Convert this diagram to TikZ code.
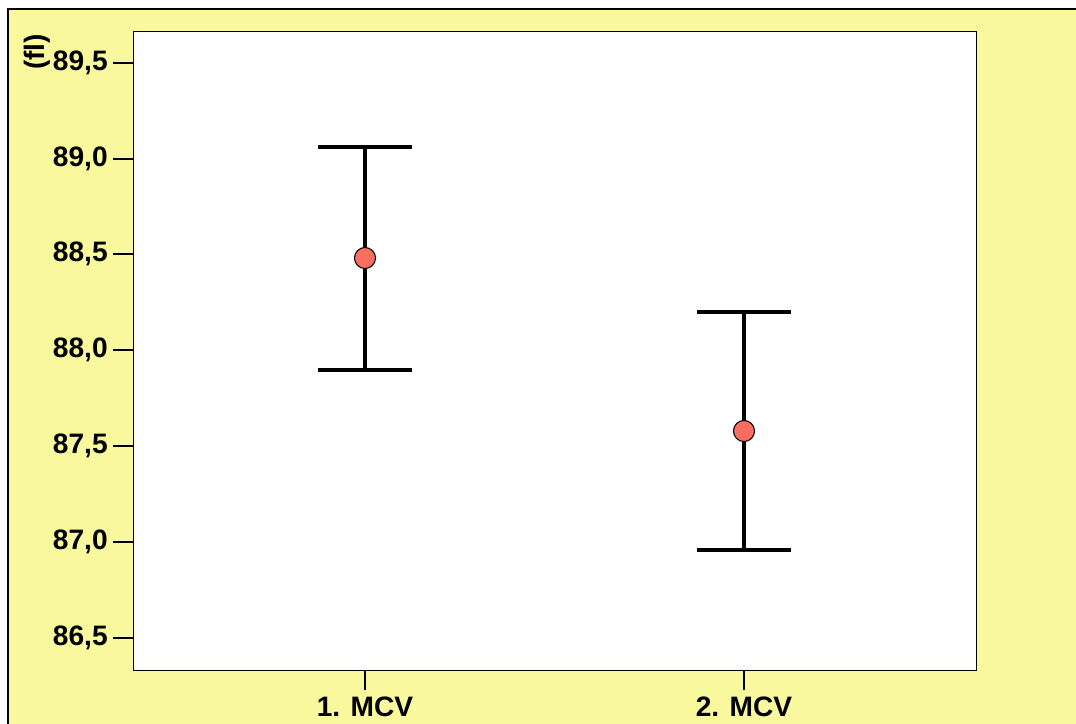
\documentclass[tikz,border=0pt]{standalone}
\usepackage{fontspec}
\setmainfont{Liberation Sans}
\definecolor{bgyellow}{HTML}{FAF89D}
\definecolor{meanred}{HTML}{FA6E62}
\tikzset{
  ticklab/.style={font=\bfseries\fontsize{16}{18}\selectfont, inner sep=0pt},
  errbar/.style={line width=2.4pt},
  meandot/.style={circle, draw=black, fill=meanred, line width=0.6pt, minimum size=12pt, inner sep=0pt},
}
\begin{document}
\begin{tikzpicture}[x=0.02cm,y=-0.02cm]
		\useasboundingbox (0,0) rectangle (1076,724);
		\fill[bgyellow] (8,9) rectangle (1076,724);
		\draw[line width=1pt] (8,724) -- (8,9) -- (1076,9);

		% plot area
		\node[draw, fill=white, line width=0.8pt, minimum width=843*0.02cm, minimum height=639*0.02cm, inner sep=0pt, anchor=north west] (frame) at (133,31) {};

		% y axis
		\foreach \v/\y in {{89,5}/63, {89,0}/159, {88,5}/254, {88,0}/350, {87,5}/446, {87,0}/542, {86,5}/638} {
			\coordinate (yt\y) at (113,\y);
			\draw[line width=0.8pt] (yt\y) -- (133,\y);
			\node[ticklab, anchor=east] (yl\y) at (108,\y) {\v};
		}
		\node[ticklab, rotate=90] (unit) at (37,52) {(fl)};

		% x axis
		\coordinate (xt1) at (365,690);\draw[line width=0.8pt] (365,670) -- (xt1);
		\coordinate (xt2) at (744,690);\draw[line width=0.8pt] (744,670) -- (xt2);
		\node[ticklab, anchor=north] (xl1) at (365,697) {1. MCV};
		\node[ticklab, anchor=north] (xl2) at (744,697) {2. MCV};

		% error bars
		\coordinate (t1) at (365,147); \coordinate (b1) at (365,370);
		\coordinate (t2) at (744,312); \coordinate (b2) at (744,550);
		\draw[errbar] (318,147) -- (412,147); \draw[errbar] (318,370) -- (412,370);
		\draw[errbar] (697,312) -- (791,312); \draw[errbar] (697,550) -- (791,550);
		\draw[errbar] (t1) -- (b1);
		\draw[errbar] (t2) -- (b2);
		\node[meandot] (m1) at (365,258) {};
		\node[meandot] (m2) at (744,431) {};
    \end{tikzpicture}
\end{document}
